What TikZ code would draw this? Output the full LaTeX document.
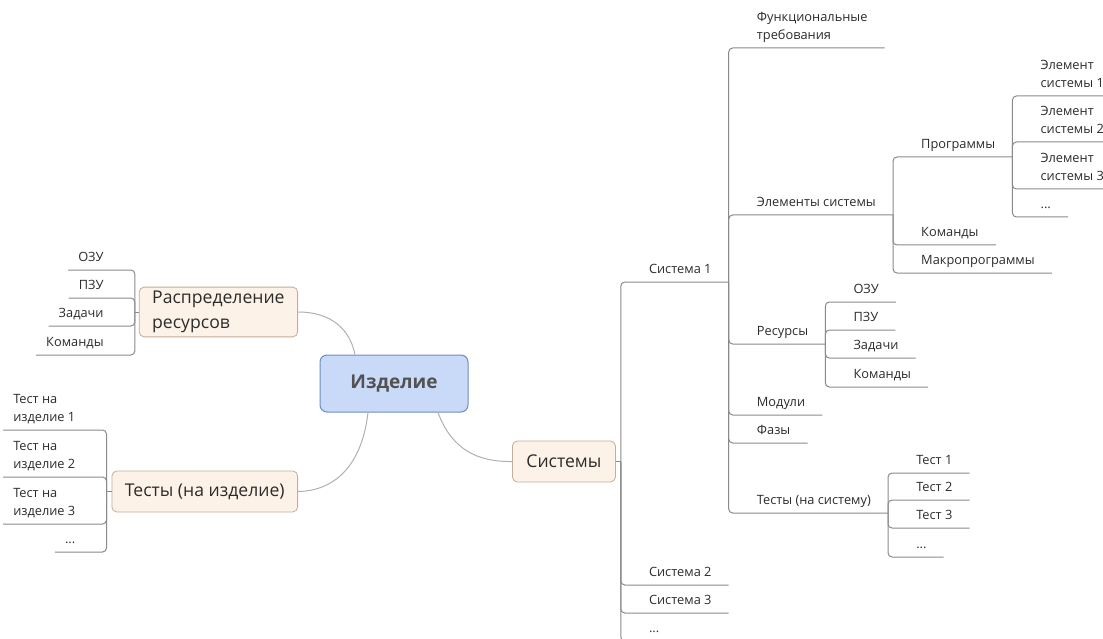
\documentclass[tikz,border=0pt]{standalone}
\usepackage{fontspec}
\setmainfont{Open Sans}
\usepackage{tikz}
\usetikzlibrary{positioning,calc}
\definecolor{hubL}{HTML}{C9DAF8}
\definecolor{hubD}{HTML}{6C8EBF}
\definecolor{topicL}{HTML}{FDF2E8}
\definecolor{topicD}{HTML}{C2AE9A}
\definecolor{lineC}{HTML}{8A8A8A}
\definecolor{curveC}{HTML}{B0B0B0}
\definecolor{txtC}{HTML}{2B2B2B}
\newcommand{\lblRes}{Распределение\\ресурсов}
\newcommand{\lblFunc}{Функциональные\\требования}
\newcommand{\lblTest}[1]{Тест на\\изделие #1}
\newcommand{\lblElem}[1]{Элемент\\системы #1}

\begin{document}
\begin{tikzpicture}[
  x=1pt, y=-1pt,
  font=\fontsize{12.8}{18}\selectfont,
  hub/.style   ={draw=hubD, fill=hubL, rounded corners=7pt, line width=1pt,
                 minimum width=148pt, minimum height=57pt,
                 font=\fontsize{19}{22}\selectfont\bfseries, text=black!68},
  topic/.style ={draw=topicD, fill=topicL, rounded corners=5pt, line width=0.8pt,
                 inner xsep=13pt, inner ysep=4pt, minimum height=41pt, align=left,
                 font=\fontsize{17.6}{25}\selectfont, text=txtC},
  rleaf/.style ={anchor=south west, inner xsep=17pt, inner ysep=5pt, xshift=11pt,
                 text depth=3.5pt, align=left, text=txtC},
  lleaf/.style ={anchor=south east, inner xsep=10pt, inner ysep=5pt, xshift=-21pt,
                 text depth=3.5pt, align=left, text=txtC},
  tree/.style  ={draw=lineC, line width=1pt, rounded corners=4pt},
  curve/.style ={draw=curveC, line width=1pt},
]
\useasboundingbox (0,0) rectangle (1103,639);

% ---- central topic and main branches -----------------------------------------
\node[hub] (izd) at (394,383.5) {Изделие};
\node[topic, anchor=east] (res) at (298,312)   {\lblRes};
\node[topic, anchor=east] (tst) at (298,491.5) {Тесты (на изделие)};
\node[topic, anchor=west, inner xsep=14pt] (sys) at (512,461.5) {Системы};

\draw[curve] ([xshift=-39pt]izd.north) .. controls (350,330) and (332,312) .. (res.east);
\draw[curve] ([xshift=-26pt]izd.south) .. controls (362,465) and (335,491) .. (tst.east);
\draw[curve] ([xshift=44pt]izd.south)  .. controls (452,450) and (478,462) .. (sys.west);

% ---- left: resources -----------------------------------------------------------
\coordinate (jR) at ([xshift=-4pt]res.west);
\node[lleaf] (r1) at (jR |- 0,270) {ОЗУ};
\node[lleaf] (r2) at (jR |- 0,298) {ПЗУ};
\node[lleaf] (r3) at (jR |- 0,326) {Задачи};
\node[lleaf] (r4) at (jR |- 0,355) {Команды};
\draw[tree] (res.west) -- (jR);
\foreach \n in {r1,r2,r3,r4}
  \draw[tree] (jR) |- (\n.south west);

% ---- left: tests of the product ------------------------------------------------
\coordinate (jT) at ([xshift=-5pt]tst.west);
\node[lleaf] (i1) at (jT |- 0,430) {\lblTest{1}};
\node[lleaf] (i2) at (jT |- 0,477) {\lblTest{2}};
\node[lleaf] (i3) at (jT |- 0,524) {\lblTest{3}};
\node[lleaf] (iN) at (jT |- 0,552) {...};
\draw[tree] (tst.west) -- (jT);
\foreach \n in {i1,i2,i3,iN}
  \draw[tree] (jT) |- (\n.south west);

% ---- right: systems ------------------------------------------------------------
\coordinate (jS) at ([xshift=5pt]sys.east);
\node[rleaf] (s1) at (jS |- 0,282) {Система 1};
\node[rleaf] (s2) at (jS |- 0,585) {Система 2};
\node[rleaf] (s3) at (jS |- 0,613) {Система 3};
\node[rleaf] (sN) at (jS |- 0,641) {...};
\draw[tree] (sys.east) -- (jS);
\foreach \n in {s1,s2,s3,sN}
  \draw[tree] (jS) |- (\n.south east);

% ---- system 1 ------------------------------------------------------------------
\coordinate (jS1) at (s1.south east);
\node[rleaf] (fr) at (jS1 |- 0,48)  {\lblFunc};
\node[rleaf] (el) at (jS1 |- 0,215) {Элементы системы};
\node[rleaf] (rs) at (jS1 |- 0,344) {Ресурсы};
\node[rleaf] (md) at (jS1 |- 0,415) {Модули};
\node[rleaf] (fz) at (jS1 |- 0,443) {Фазы};
\node[rleaf] (ts) at (jS1 |- 0,513) {Тесты (на систему)};
\foreach \n in {fr,el,rs,md,fz,ts}
  \draw[tree] (jS1) |- (\n.south east);

% system elements
\coordinate (jEl) at (el.south east);
\node[rleaf] (pr) at (jEl |- 0,157) {Программы};
\node[rleaf] (km) at (jEl |- 0,245) {Команды};
\node[rleaf] (mp) at (jEl |- 0,273) {Макропрограммы};
\foreach \n in {pr,km,mp}
  \draw[tree] (jEl) |- (\n.south east);

\coordinate (jPr) at (pr.south east);
\node[rleaf] (e1) at (jPr |- 0,96)  {\lblElem{1}};
\node[rleaf] (e2) at (jPr |- 0,142) {\lblElem{2}};
\node[rleaf] (e3) at (jPr |- 0,189) {\lblElem{3}};
\node[rleaf] (eN) at (jPr |- 0,217) {...};
\foreach \n in {e1,e2,e3,eN}
  \draw[tree] (jPr) |- (\n.south east);

% resources of the system
\coordinate (jRs) at (rs.south east);
\node[rleaf] (q1) at (jRs |- 0,302) {ОЗУ};
\node[rleaf] (q2) at (jRs |- 0,330) {ПЗУ};
\node[rleaf] (q3) at (jRs |- 0,358) {Задачи};
\node[rleaf] (q4) at (jRs |- 0,387) {Команды};
\foreach \n in {q1,q2,q3,q4}
  \draw[tree] (jRs) |- (\n.south east);

% tests of the system
\coordinate (jTs) at (ts.south east);
\node[rleaf] (t1) at (jTs |- 0,473) {Тест 1};
\node[rleaf] (t2) at (jTs |- 0,500) {Тест 2};
\node[rleaf] (t3) at (jTs |- 0,528) {Тест 3};
\node[rleaf] (tN) at (jTs |- 0,557) {...};
\foreach \n in {t1,t2,t3,tN}
  \draw[tree] (jTs) |- (\n.south east);

\end{tikzpicture}
\end{document}
